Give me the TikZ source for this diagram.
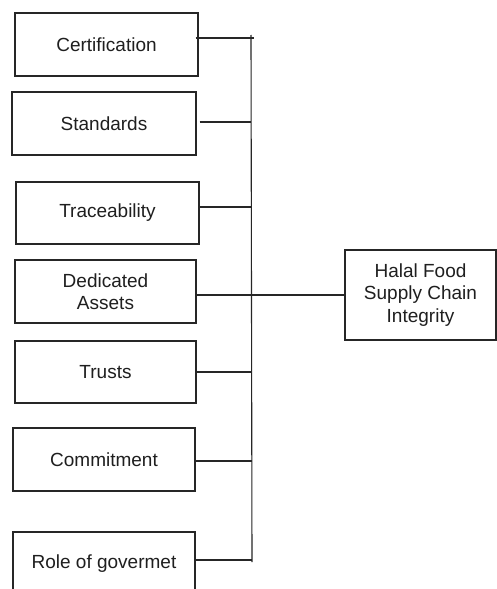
\documentclass[tikz,border=0pt]{standalone}
\usepackage{fontspec}
\setmainfont{Liberation Sans}
\begin{document}
\begin{tikzpicture}[x=1pt,y=-1pt,
  box/.style={draw=black!85, line width=1.1pt, inner sep=0pt, align=center,
    text=black!88, font=\fontsize{19}{22.5}\selectfont},
  conn/.style={draw=black!85, line width=1.1pt}]
\clip (0,0) rectangle (497,589);
\fill[white] (0,0) rectangle (497,589);
\node[box, minimum width=183pt, minimum height=63pt] (c1) at (106.5,44.5) {Certification};
\node[box, minimum width=184pt, minimum height=63pt] (c2) at (104,123.5) {Standards};
\node[box, minimum width=183pt, minimum height=62pt] (c3) at (107.5,213) {Traceability};
\node[box, minimum width=181pt, minimum height=63pt] (c4) at (105.5,291.5) {Dedicated\\Assets};
\node[box, minimum width=181pt, minimum height=62pt] (c5) at (105.5,372) {Trusts};
\node[box, minimum width=182pt, minimum height=63pt] (c6) at (104,459.5) {Commitment};
\node[box, minimum width=182pt, minimum height=63pt] (c7) at (104,563.5) {Role of govermet};
\node[box, minimum width=151pt, minimum height=90pt] (h) at (420.5,295) {Halal Food\\Supply Chain\\Integrity};
\coordinate (top) at (251,35);
\coordinate (bot) at (252,562);
\coordinate (j1) at (254,38);
\coordinate (j2) at (251,122);
\coordinate (j3) at (251,207);
\coordinate (j5) at (251.5,372);
\coordinate (j6) at (251.5,461);
\coordinate (j7) at (252,560);
\draw[conn] (top) -- (bot);
\draw[conn] ([xshift=-3pt]c1.east |- j1) -- (j1);
\draw[conn] ([xshift=3pt]c2.east |- j2) -- (j2);
\draw[conn] (c3.east |- j3) -- (j3);
\draw[conn] (c4.east |- h.west) -- (h.west);
\draw[conn] (c5.east |- j5) -- (j5);
\draw[conn] (c6.east |- j6) -- (j6);
\draw[conn] (c7.east |- j7) -- (j7);
\end{tikzpicture}
\end{document}
